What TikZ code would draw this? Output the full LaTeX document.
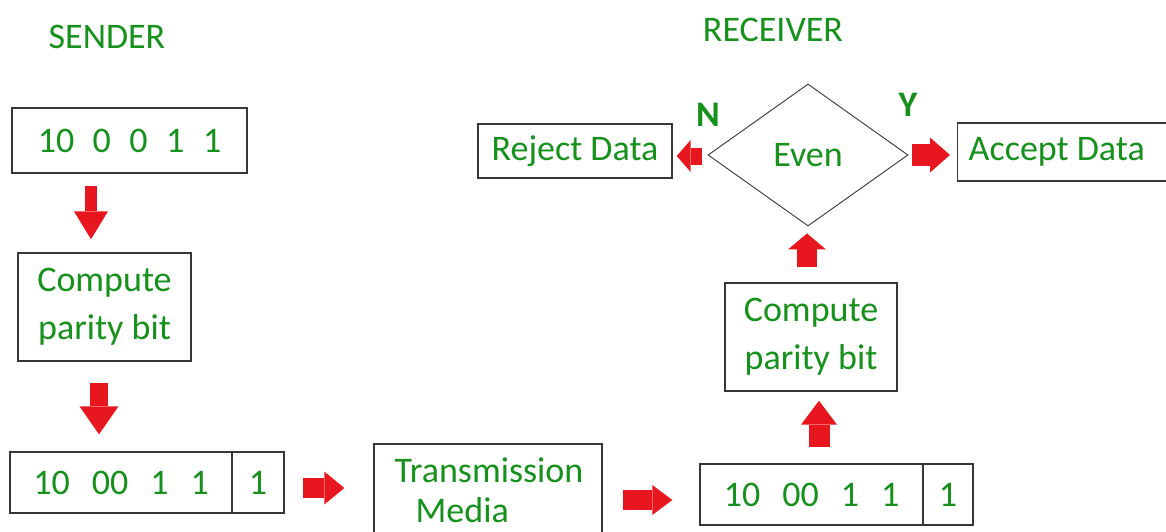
\documentclass[tikz,border=0pt]{standalone}
\usepackage{fontspec}
\setmainfont{Carlito}
\usetikzlibrary{arrows.meta,shapes.geometric,calc}
\definecolor{txtgreen}{RGB}{22,145,28}
\definecolor{arrred}{RGB}{232,22,30}
\definecolor{linegray}{RGB}{55,55,55}
\newcommand{\bitrow}[2]{{\spaceskip=#1 #2}}

\begin{document}
\begin{tikzpicture}[x=1pt,y=-1pt]
\tikzset{lbl/.style = {text=txtgreen, font=\fontsize{36}{48}\selectfont, inner sep=0pt},
  box/.style = {lbl, draw=linegray, line width=1.4pt, align=center},
  blk/.style n args = {3}{draw=arrred, line width=#1, -{Triangle[width=#2,length=#3,line width=0pt]}}}
\fill[white] (0,0) rectangle (1166,532);
\useasboundingbox (0,0) rectangle (1166,532);
\clip (0,0) rectangle (1166,532);

\node[lbl] (sender) at (107,37) {SENDER};
\node[lbl] (receiver) at (773,30) {RECEIVER};

% sender side
\node[box, minimum width=235pt, minimum height=65pt] (msg0) at (129.5,140.5) {\bitrow{18.5pt}{10 0 0 1 1}};
\node[box, minimum width=173pt, minimum height=108pt] (cp1) at (104.5,307) {Compute\\parity bit};
\node[box, minimum width=222pt, minimum height=61pt] (msg1) at (121,482.5) {\bitrow{22pt}{10 00 1 1}};
\node[box, minimum width=52pt, minimum height=61pt] (par1) at (258,482.5) {1};

% channel
\node[box, minimum width=228pt, minimum height=116pt] (tm) at (488,502) {};
\node[lbl, align=left, font=\fontsize{36}{40}\selectfont] (tmtext) at (489,490) {Transmission\\\hspace*{21pt}Media};

% receiver side
\node[box, minimum width=223pt, minimum height=61pt] (msg2) at (811.5,494.5) {\bitrow{22pt}{10 00 1 1}};
\node[box, minimum width=50pt, minimum height=61pt] (par2) at (948,494.5) {1};
\node[box, minimum width=172pt, minimum height=108pt] (cp2) at (811,337) {Compute\\parity bit};
\node[lbl, diamond, draw=linegray, line width=0.9pt, minimum width=200pt, minimum height=142pt] (even) at (808,155) {Even};
\node[box, minimum width=194pt, minimum height=54pt] (reject) at (575,151) {Reject Data};
\node[box, anchor=west, minimum width=243pt, minimum height=58pt] (accept) at (957,152) {\makebox[221pt][l]{Accept Data}};
\node[lbl, font=\fontsize{36}{48}\selectfont\bfseries] (no) at (708,115) {N};
\node[lbl, font=\fontsize{36}{48}\selectfont\bfseries] (yes) at (908,105) {Y};

\draw[blk={12pt}{34pt}{28pt}] ($(msg0.south)+(-38.5,12)$) -- ($(cp1.north)+(-13.5,-13)$);
\draw[blk={18pt}{39pt}{28pt}] ($(cp1.south)+(-5.5,21)$) -- ($(msg1.north)+(-22,-17)$);
\draw[blk={20pt}{33pt}{20pt}] ($(par1.east)+(18,5.5)$) -- ($(tm.west)+(-29,-14)$);
\draw[blk={20pt}{30pt}{20pt}] ($(tm.east)+(20,-2)$) -- ($(msg2.west)+(-27,5.5)$);
\draw[blk={21pt}{36pt}{24pt}] ($(msg2.north)+(7.5,-16)$) -- ($(cp2.south)+(8,9)$);
\draw[blk={20pt}{38pt}{16pt}] ($(cp2.north)+(-4,-15)$) -- ($(even.south)+(-1,7)$);
\draw[blk={17pt}{32pt}{14pt}] ($(even.west)+(-6,1)$) -- ($(reject.east)+(4,5)$);
\draw[blk={22pt}{35pt}{20pt}] ($(even.east)+(4,0)$) -- ($(accept.west)+(-7,3)$);
\end{tikzpicture}
\end{document}
